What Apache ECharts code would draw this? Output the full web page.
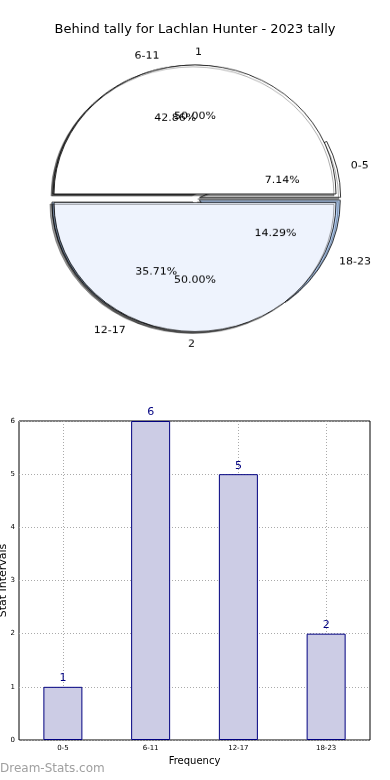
<!DOCTYPE html>
<html><head><meta charset="utf-8">
<script src="https://cdn.jsdelivr.net/npm/echarts@6/dist/echarts.min.js"></script>
<style>
html,body{margin:0;padding:0;background:#fff;}
#main{position:absolute;left:0;top:0;width:390px;height:780px;}
#pie{position:absolute;left:0;top:0;width:390px;height:420px;transform:scaleY(0.915);transform-origin:0 0;}
</style></head><body>
<div id="main"></div><div id="pie"></div>
<script>
// ---- data ----
const chartTitle = 'Behind tally for Lachlan Hunter - 2023 tally';
const categories = ['0-5', '6-11', '12-17', '18-23'];
const counts = [1, 6, 5, 2];
const groupNames = ['1', '2'];
const groupCounts = [7, 7];
const yTickMin = 0, yTickMax = 6, yTickStep = 1;
const xAxisName = 'Frequency';
const yAxisName = 'Stat Intervals';
const watermark = 'Dream-Stats.com';

// ---- styles ----
const FONT = 'DejaVu Sans';
const outerColors = ['#ffffff', '#ffffff', '#b3cff5', '#b3cff5'];
const innerColors = ['#ffffff', '#eef3fd'];
const PIE_R = 141, PIE_C = [195, 216.7], OFF = 4.75;

function pct(v, arr) { const s = arr.reduce((a, b) => a + b, 0); return (v / s * 100).toFixed(2) + '%'; }

function visiblePie(names, vals, colors, z) {
  return {
    type: 'pie', z: z, center: PIE_C, radius: [0, PIE_R], startAngle: 0, clockwise: false,
    selectedMode: 'multiple', selectedOffset: OFF, avoidLabelOverlap: false, animation: false,
    emphasis: { disabled: true, scale: false },
    labelLayout: { hideOverlap: false },
    data: names.map((n, i) => ({ name: n, value: vals[i], selected: true, itemStyle: { color: colors[i] } })),
    itemStyle: { borderColor: '#000', borderWidth: 0.8, shadowColor: 'rgba(0,0,0,0.4)', shadowBlur: 0, shadowOffsetX: -2, shadowOffsetY: 2 },
    label: { show: true, position: 'outside', color: '#000', fontSize: 11, fontFamily: FONT, distanceToLabelLine: 0 },
    labelLine: { show: false, length: PIE_R * 0.1, length2: 0 }
  };
}
function labelPie(names, vals, z) {
  return {
    type: 'pie', z: z, silent: true, center: PIE_C, radius: [PIE_R * 0.2 - 6, PIE_R], startAngle: 0, clockwise: false,
    selectedMode: 'multiple', selectedOffset: OFF, avoidLabelOverlap: false, animation: false,
    emphasis: { disabled: true, scale: false },
    labelLayout: { hideOverlap: false },
    data: names.map((n, i) => ({ name: n, value: vals[i], selected: true })),
    itemStyle: { color: 'rgba(0,0,0,0)', borderWidth: 0 },
    label: { show: true, position: 'inside', color: '#000', fontSize: 11, fontFamily: FONT,
      formatter: p => pct(p.value, vals) },
    labelLine: { show: false }
  };
}

const pieChart = echarts.init(document.getElementById('pie'));
pieChart.setOption({
  animation: false,
  series: [
    visiblePie(categories, counts, outerColors, 1),
    visiblePie(groupNames, groupCounts, innerColors, 2),
    labelPie(categories, counts, 3),
    labelPie(groupNames, groupCounts, 4)
  ]
});

const mainChart = echarts.init(document.getElementById('main'));
mainChart.setOption({
  animation: false,
  textStyle: { fontFamily: FONT },
  title: { text: chartTitle, left: 'center', top: 23, padding: 0,
    textStyle: { fontSize: 13, fontWeight: 'normal', color: '#000', fontFamily: FONT } },
  graphic: [{ type: 'text', left: 0, top: 763, style: { text: watermark, fill: '#a0a0a0', font: '12px "DejaVu Sans"' } }],
  grid: { left: 19, right: 20, top: 421, bottom: 40, containLabel: false, outerBoundsMode: 'none',
    show: true, borderColor: '#000', borderWidth: 1, backgroundColor: 'transparent' },
  xAxis: {
    type: 'category', data: categories, boundaryGap: true,
    axisLine: { show: false }, axisTick: { show: false },
    axisLabel: { fontSize: 7, color: '#000', margin: 5 },
    splitLine: { show: true, alignWithLabel: true, lineStyle: { color: '#aaaaaa', type: [1, 2], width: 1 } },
    name: xAxisName, nameLocation: 'middle', nameGap: 16, nameMoveOverlap: false,
    nameTextStyle: { fontSize: 10, color: '#000' }
  },
  yAxis: {
    type: 'value', min: yTickMin, max: yTickMax, interval: yTickStep,
    axisLine: { show: false }, axisTick: { show: false },
    axisLabel: { fontSize: 7, color: '#000', margin: 4 },
    splitLine: { show: true, lineStyle: { color: '#aaaaaa', type: [1, 2], width: 1 } },
    name: yAxisName, nameLocation: 'middle', nameGap: 10, nameRotate: 90, nameMoveOverlap: false,
    nameTextStyle: { fontSize: 11, color: '#000' }
  },
  series: [{
    type: 'bar', data: counts, barWidth: 39,
    itemStyle: { color: '#ccccE5', borderColor: '#000080', borderWidth: 1 },
    label: { show: true, position: 'top', distance: 3, color: '#000080', fontSize: 11 }
  }]
});
</script>
</body></html>
